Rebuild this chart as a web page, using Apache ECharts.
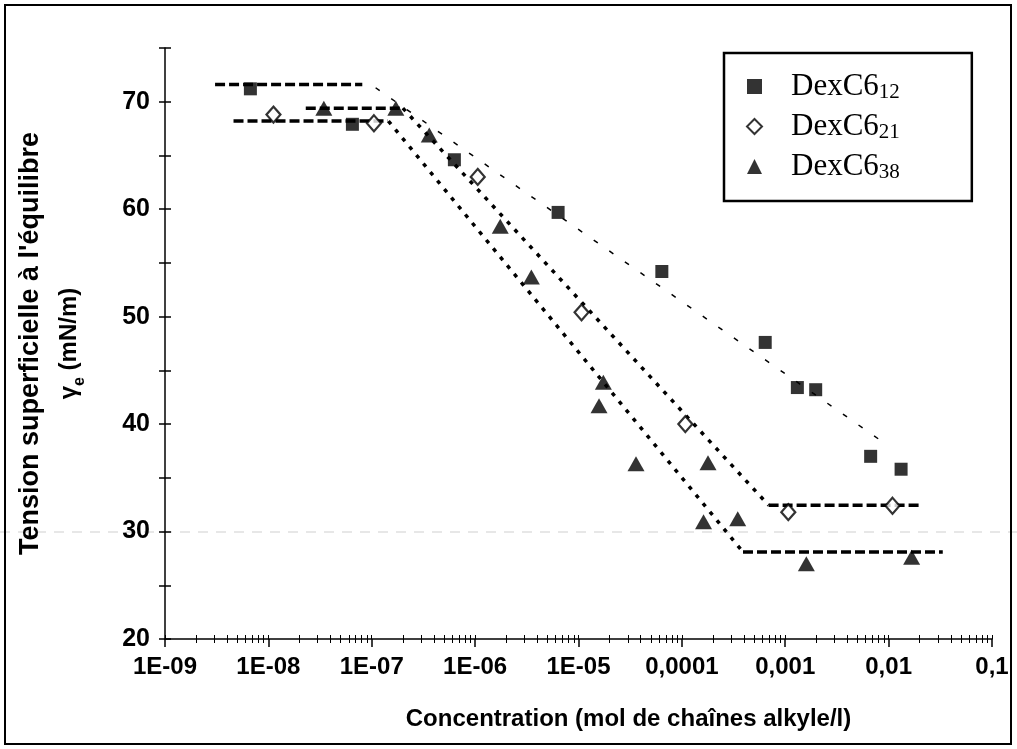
<!DOCTYPE html>
<html><head><meta charset="utf-8">
<script src="https://cdn.jsdelivr.net/npm/echarts@6/dist/echarts.min.js"></script>
<style>html,body{margin:0;padding:0;background:#fff}#c{width:1017px;height:749px}</style>
</head><body><div id="c"></div>
<script>
// ---- data ----
const xTickLabels = ['1E-09','1E-08','1E-07','1E-06','1E-05','0,0001','0,001','0,01','0,1'];
const yTickLabels = [20, 30, 40, 50, 60, 70];
const seriesNames = ['DexC6_12', 'DexC6_21', 'DexC6_38'];

const dex12 = [[6.7e-9,71.2],[6.5e-8,67.9],[6.3e-7,64.6],[6.35e-6,59.7],[6.4e-5,54.2],[6.4e-4,47.6],[1.31e-3,43.4],[1.97e-3,43.2],[6.7e-3,37.0],[1.32e-2,35.8]];
const dex21 = [[1.12e-8,68.8],[1.05e-7,68.0],[1.06e-6,63.0],[1.07e-5,50.4],[1.08e-4,40.0],[1.07e-3,31.8],[1.09e-2,32.4]];
const dex38 = [[3.44e-8,69.4],[1.71e-7,69.4],[3.6e-7,66.9],[1.75e-6,58.4],[3.5e-6,53.7],[1.58e-5,41.7],[1.74e-5,43.9],[3.6e-5,36.3],[1.62e-4,30.9],[1.79e-4,36.4],[3.47e-4,31.2],[1.6e-3,27.0],[1.67e-2,27.6]];

// hand-drawn trend lines (end points)
const plateauHigh12 = [[3.05e-9,71.6],[8.1e-8,71.6]];
const plateauHigh21 = [[4.6e-9,68.2],[1.43e-7,68.2]];
const plateauHigh38 = [[2.3e-8,69.4],[2.0e-7,69.4]];
const slope12 = [[1.09e-7,71.3],[1.02e-2,37.9]];
const slopeA = [[1.45e-7,68.2],[3.9e-4,28.1]];
const slopeC = [[2.0e-7,69.4],[6.9e-4,32.45]];
const plateauLow21 = [[6.9e-4,32.45],[1.99e-2,32.45]];
const plateauLow38 = [[3.9e-4,28.1],[3.34e-2,28.1]];

// tick positions of the log axis (1..9 per decade)
const minorTicks = [];
const allTicks = [];
for (let k = -9; k <= -2; k++) {
  for (let m = 1; m <= 9; m++) {
    const v = +(m * Math.pow(10, k)).toPrecision(3);
    allTicks.push(v);
    if (m > 1) minorTicks.push(v);
  }
}
allTicks.push(0.1);

const SANS = 'Liberation Sans';
const SERIF = 'Liberation Serif';
const chart = echarts.init(document.getElementById('c'), null, {renderer: 'canvas'});

const baseX = {type: 'log', logBase: 10, min: 1e-9, max: 0.1, position: 'bottom', splitLine: {show: false}};
const baseY = {type: 'value', min: 20, max: 75, interval: 5, position: 'left', splitLine: {show: false}};

function dashed(data, width, dash) {
  return {type: 'line', data: data, showSymbol: false, symbol: 'none', silent: true, z: 2,
    lineStyle: {color: '#000', width: width, type: dash}};
}

chart.setOption({
  backgroundColor: '#fff',
  animation: false,
  grid: {left: 165, right: 25, top: 48, bottom: 110, containLabel: false},
  xAxis: [
    Object.assign({}, baseX, {
      splitNumber: 8,
      axisLine: {onZero: false, lineStyle: {color: '#000', width: 1.5}},
      axisTick: {length: 8, lineStyle: {color: '#000', width: 1.5}},
      axisLabel: {color: '#000', fontFamily: SANS, fontWeight: 'bold', fontSize: 24, margin: 16,
        formatter: v => xTickLabels[Math.round(Math.log10(v)) + 9]},
      name: 'Concentration (mol de chaînes alkyle/l)', nameLocation: 'middle', nameGap: 68,
      nameTextStyle: {color: '#000', fontFamily: SANS, fontWeight: 'bold', fontSize: 24, padding: [0, 0, 0, 100]}
    }),
    Object.assign({}, baseX, {
      axisLine: {show: false}, axisLabel: {show: false},
      axisTick: {customValues: allTicks, inside: true, length: 4, lineStyle: {color: '#000', width: 1}}
    }),
    Object.assign({}, baseX, {
      axisLine: {show: false}, axisLabel: {show: false},
      axisTick: {customValues: minorTicks, inside: false, length: 4, lineStyle: {color: '#000', width: 1}}
    })
  ],
  yAxis: [
    Object.assign({}, baseY, {
      axisLine: {show: true, onZero: false, lineStyle: {color: '#000', width: 1.5}},
      axisTick: {show: true, length: 6, lineStyle: {color: '#000', width: 1.5}},
      axisLabel: {color: '#000', fontFamily: SANS, fontWeight: 'bold', fontSize: 25, margin: 15,
        formatter: v => yTickLabels.indexOf(v) >= 0 ? String(v) : ''},
      name: "Tension superficielle à l'équilibre\n{g|γ}{e|e}{g| (mN/m)}",
      nameLocation: 'middle', nameGap: 77,
      nameTextStyle: {color: '#000', fontFamily: SANS, fontWeight: 'bold', fontSize: 27, lineHeight: 38,
        rich: {
          g: {color: '#000', fontFamily: SANS, fontWeight: 'bold', fontSize: 24, lineHeight: 38},
          e: {color: '#000', fontFamily: SANS, fontWeight: 'bold', fontSize: 16, lineHeight: 26, verticalAlign: 'bottom'}
        }}
    }),
    Object.assign({}, baseY, {
      axisLine: {show: false}, axisLabel: {show: false},
      axisTick: {show: true, inside: true, length: 6, lineStyle: {color: '#000', width: 1.5}}
    })
  ],
  legend: {
    orient: 'vertical', left: 724, top: 53,
    data: seriesNames,
    padding: [18, 72, 18, 22], itemGap: 8, itemWidth: 15, itemHeight: 15,
    borderColor: '#000', borderWidth: 2.5, backgroundColor: '#fff',
    formatter: n => '{b|' + n.split('_')[0] + '}{s|' + n.split('_')[1] + '}',
    textStyle: {color: '#000', padding: [0, 0, 0, 24],
      rich: {
        b: {color: '#000', fontFamily: SERIF, fontSize: 31, lineHeight: 33},
        s: {color: '#000', fontFamily: SERIF, fontSize: 21, lineHeight: 14, verticalAlign: 'bottom'}
      }}
  },
  graphic: [
    {type: 'rect', silent: true, z: 100, shape: {x: 5, y: 5, width: 1006, height: 739},
      style: {fill: 'none', stroke: '#000', lineWidth: 2}},
    {type: 'line', silent: true, z: -1, shape: {x1: 0, y1: 532, x2: 1017, y2: 532},
      style: {stroke: '#cfcfcf', lineWidth: 1, lineDash: [10, 8]}}
  ],
  series: [
    dashed(plateauHigh12, 3.5, [10, 4]),
    dashed(plateauHigh21, 3.5, [10, 4]),
    dashed(plateauHigh38, 3.5, [10, 4]),
    dashed(slope12, 1.5, [5, 14]),
    dashed(slopeA, 3.5, [4, 7]),
    dashed(slopeC, 3.5, [4, 7]),
    dashed(plateauLow21, 3.5, [10, 4]),
    dashed(plateauLow38, 3.5, [10, 4]),
    {name: seriesNames[0], type: 'scatter', data: dex12, symbol: 'rect', symbolSize: 13, z: 5,
      itemStyle: {color: '#000'}},
    {name: seriesNames[1], type: 'scatter', data: dex21, symbol: 'diamond', symbolSize: [14, 16], z: 5,
      itemStyle: {color: '#fff', borderColor: '#000', borderWidth: 2.2}},
    {name: seriesNames[2], type: 'scatter', data: dex38, symbol: 'triangle', symbolSize: [17, 15], z: 5,
      itemStyle: {color: '#000'}}
  ]
});
</script>
</body></html>
